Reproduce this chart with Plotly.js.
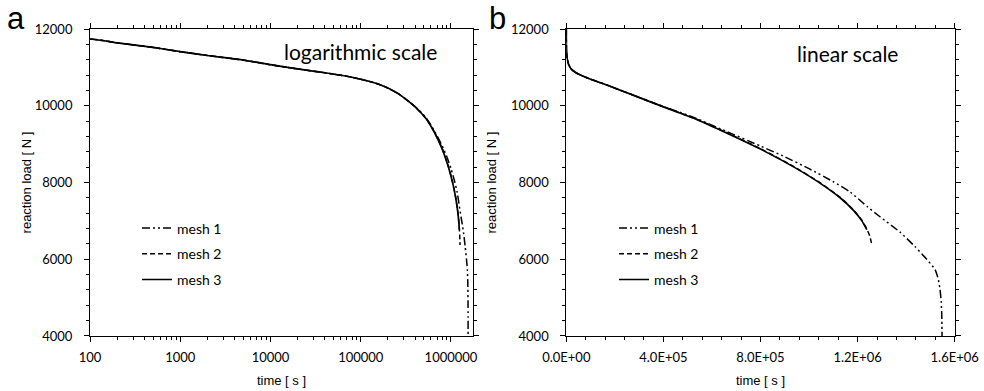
<!DOCTYPE html>
<html>
<head>
<meta charset="utf-8">
<script src="https://cdn.plot.ly/plotly-3.0.1.min.js"></script>
<style>
  html, body { margin: 0; padding: 0; background: #fff; }
  #chart { width: 984px; height: 391px; }
</style>
</head>
<body>
<div id="chart"></div>
<script>
// ---- data (time in s, reaction load in N) ----
const time3 = [0, 100, 200, 500, 1000, 2000, 5000, 10000, 20000, 40000, 70000, 100000, 150000, 200000, 270000, 400000, 530000, 660000, 800000, 940000, 1045000, 1128000, 1183000, 1217000, 1238000];
const load3 = [12000, 11740, 11640, 11520, 11410, 11310, 11190, 11070, 10960, 10860, 10770, 10690, 10580, 10460, 10290, 9970, 9660, 9290, 8870, 8394, 7984, 7602, 7272, 7007, 6770];

const time2 = [0, 100, 200, 500, 1000, 2000, 5000, 10000, 20000, 40000, 70000, 100000, 150000, 200000, 270000, 400000, 530000, 660000, 800000, 940000, 1045000, 1128000, 1183000, 1217000, 1238000, 1250000, 1259000];
const load2 = [12000, 11740, 11640, 11520, 11410, 11310, 11190, 11070, 10960, 10860, 10770, 10690, 10580, 10460, 10290, 9975, 9668, 9300, 8882, 8406, 7996, 7615, 7286, 7022, 6790, 6610, 6370];

const time1 = [0, 100, 200, 500, 1000, 2000, 5000, 10000, 20000, 40000, 70000, 100000, 150000, 200000, 270000, 400000, 530000, 660000, 800000, 900000, 1000000, 1100000, 1170000, 1240000, 1293600, 1376000, 1436500, 1484800, 1519000, 1532500, 1539500, 1544500, 1547000, 1548000];
const load1 = [12000, 11740, 11640, 11520, 11410, 11310, 11190, 11070, 10960, 10860, 10770, 10690, 10580, 10460, 10290, 9980, 9685, 9330, 8950, 8670, 8360, 8020, 7750, 7370, 7100, 6700, 6330, 6000, 5730, 5480, 5220, 4900, 4500, 4000];

const seriesNames = ['mesh 1', 'mesh 2', 'mesh 3'];

const logTickVals = [100, 1000, 10000, 100000, 1000000];
const logTickText = ['100', '1000', '10000', '100000', '1000000'];
const linTickVals = [0, 400000, 800000, 1200000, 1600000];
const linTickText = ['0.0E+00', '4.0E+05', '8.0E+05', '1.2E+06', '1.6E+06'];
const yTickVals = [4000, 6000, 8000, 10000, 12000];
const yTickText = ['4000', '6000', '8000', '10000', '12000'];

// ---- styles ----
const tickFont = { family: 'Lato, Carlito, sans-serif', size: 13, color: '#000' };
const titleFont = { family: 'Liberation Sans, Arial, sans-serif', size: 13, color: '#000' };
const dashes = ['8px,3px,2px,3px,2px,3px', '5px,3px', 'solid'];
const widths = [1.5, 1.5, 1.7];

const seriesT = [time1, time2, time3];
const seriesL = [load1, load2, load3];

const traces = [];
[['x', 'y', 'legend'], ['x2', 'y2', 'legend2']].forEach(function (ax) {
  for (let i = 0; i < 3; i++) {
    traces.push({
      type: 'scatter', mode: 'lines',
      x: seriesT[i], y: seriesL[i],
      name: seriesNames[i],
      xaxis: ax[0], yaxis: ax[1], legend: ax[2],
      legendgroup: ax[2] + i,
      line: { color: '#000', width: widths[i], dash: dashes[i], shape: 'spline', smoothing: 0.5 },
      hoverinfo: 'skip'
    });
  }
});

function axisBase() {
  return {
    showline: true, linecolor: '#000', linewidth: 1, mirror: 'ticks',
    ticks: 'outside', ticklen: 5, tickwidth: 1, tickcolor: '#000',
    showgrid: false, zeroline: false, tickfont: tickFont, fixedrange: true
  };
}

const xa = Object.assign(axisBase(), {
  type: 'log', domain: [0.0915, 0.4807], range: [2, 6.244], anchor: 'y',
  tickmode: 'array', tickvals: logTickVals, ticktext: logTickText,
  minor: { dtick: 'D1', ticks: 'outside', ticklen: 3, tickcolor: '#000', showgrid: false },
  ticklabelstandoff: 4,
  title: { text: 'time [ s ]', font: titleFont, standoff: 12 }
});
const xa2 = Object.assign(axisBase(), {
  type: 'linear', domain: [0.5755, 0.9702], range: [0, 1600000], anchor: 'y2',
  tickmode: 'array', tickvals: linTickVals, ticktext: linTickText,
  minor: { dtick: 80000, tick0: 0, ticks: 'outside', ticklen: 3, tickcolor: '#000', showgrid: false },
  ticklabelstandoff: 4,
  title: { text: 'time [ s ]', font: titleFont, standoff: 12 }
});
const ya = Object.assign(axisBase(), {
  domain: [0.1407, 0.9258], range: [4000, 12000], anchor: 'x',
  tickmode: 'array', tickvals: yTickVals, ticktext: yTickText,
  minor: { dtick: 400, tick0: 4000, ticks: 'outside', ticklen: 3, tickcolor: '#000', showgrid: false },
  ticklabelstandoff: 9,
  title: { text: 'reaction load [ N ]', font: titleFont, standoff: 0 }
});
const ya2 = Object.assign(axisBase(), {
  domain: [0.1407, 0.9258], range: [4000, 12000], anchor: 'x2',
  tickmode: 'array', tickvals: yTickVals, ticktext: yTickText,
  minor: { dtick: 400, tick0: 4000, ticks: 'outside', ticklen: 3, tickcolor: '#000', showgrid: false },
  ticklabelstandoff: 9,
  title: { text: 'reaction load [ N ]', font: titleFont, standoff: 11 }
});

const legendBase = {
  font: { family: 'Lato, Carlito, sans-serif', size: 14, color: '#000' },
  bgcolor: 'rgba(0,0,0,0)', borderwidth: 0,
  traceorder: 'grouped', tracegroupgap: 4.5,
  xanchor: 'left', yanchor: 'top', itemwidth: 30
};

const layout = {
  width: 984, height: 391, autosize: false,
  margin: { l: 0, r: 0, t: 0, b: 0 },
  paper_bgcolor: '#fff', plot_bgcolor: '#fff',
  showlegend: true,
  xaxis: xa, yaxis: ya, xaxis2: xa2, yaxis2: ya2,
  legend: Object.assign({}, legendBase, { x: 137 / 984, y: (391 - 212.5) / 391 }),
  legend2: Object.assign({}, legendBase, { x: 614 / 984, y: (391 - 212.5) / 391 }),
  annotations: [
    { text: 'logarithmic scale', xref: 'paper', yref: 'paper', x: 360 / 984, y: (391 - 51) / 391,
      xanchor: 'center', yanchor: 'middle', showarrow: false,
      font: { family: 'Lato, Carlito, sans-serif', size: 21, color: '#000' } },
    { text: 'linear scale', xref: 'paper', yref: 'paper', x: 847.5 / 984, y: (391 - 53) / 391,
      xanchor: 'center', yanchor: 'middle', showarrow: false,
      font: { family: 'Lato, Carlito, sans-serif', size: 21, color: '#000' } },
    { text: 'a', xref: 'paper', yref: 'paper', x: 16 / 984, y: (391 - 18) / 391,
      xanchor: 'center', yanchor: 'middle', showarrow: false,
      font: { family: 'Liberation Sans, Arial, sans-serif', size: 31, color: '#000' } },
    { text: 'b', xref: 'paper', yref: 'paper', x: 497 / 984, y: (391 - 18) / 391,
      xanchor: 'center', yanchor: 'middle', showarrow: false,
      font: { family: 'Liberation Sans, Arial, sans-serif', size: 31, color: '#000' } }
  ]
};

Plotly.newPlot('chart', traces, layout, { displayModeBar: false, staticPlot: true });
</script>
</body>
</html>
